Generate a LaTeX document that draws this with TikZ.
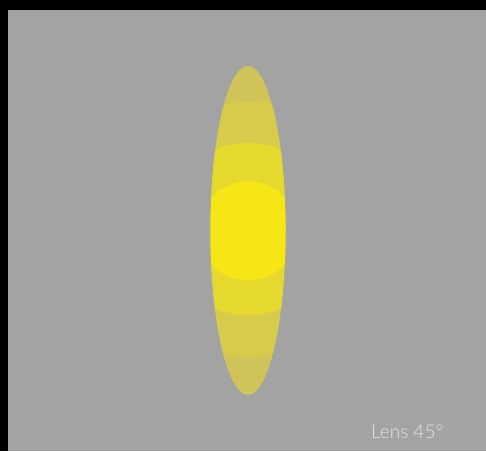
\documentclass[tikz,border=0pt]{standalone}
\usepackage{fontspec}
\setmainfont{Lato}[UprightFont={* Light}]
\definecolor{bggray}{HTML}{A3A3A3}
\definecolor{lensA}{HTML}{CFC35A}
\definecolor{lensB}{HTML}{D7CB4A}
\definecolor{lensC}{HTML}{E6D92E}
\definecolor{lensD}{HTML}{F6E616}
\definecolor{labelcol}{HTML}{E4E4E4}
\begin{document}
\begin{tikzpicture}[x=1pt,y=-1pt,
  labeltext/.style={text=labelcol,font=\fontsize{19}{22}\selectfont,anchor=base west,inner sep=0pt}]
\useasboundingbox (0,0) rectangle (486,451);
\fill[black] (0,0) rectangle (486,451);
\fill[bggray] (8,10) rectangle (486,451);
\begin{scope}
  \clip (248,230.5) ellipse [x radius=37.5, y radius=164.5];
  \fill[lensA] (248,230.5) ellipse [x radius=37.5, y radius=164.5];
  \fill[lensB] (248,229.5) circle [radius=127.5];
  \fill[lensC] (248,229) circle [radius=86];
  \fill[lensD] (248,231) circle [radius=49.5];
\end{scope}
\node[labeltext] (label) at (371,438) {Lens 45°};
\end{tikzpicture}
\end{document}
